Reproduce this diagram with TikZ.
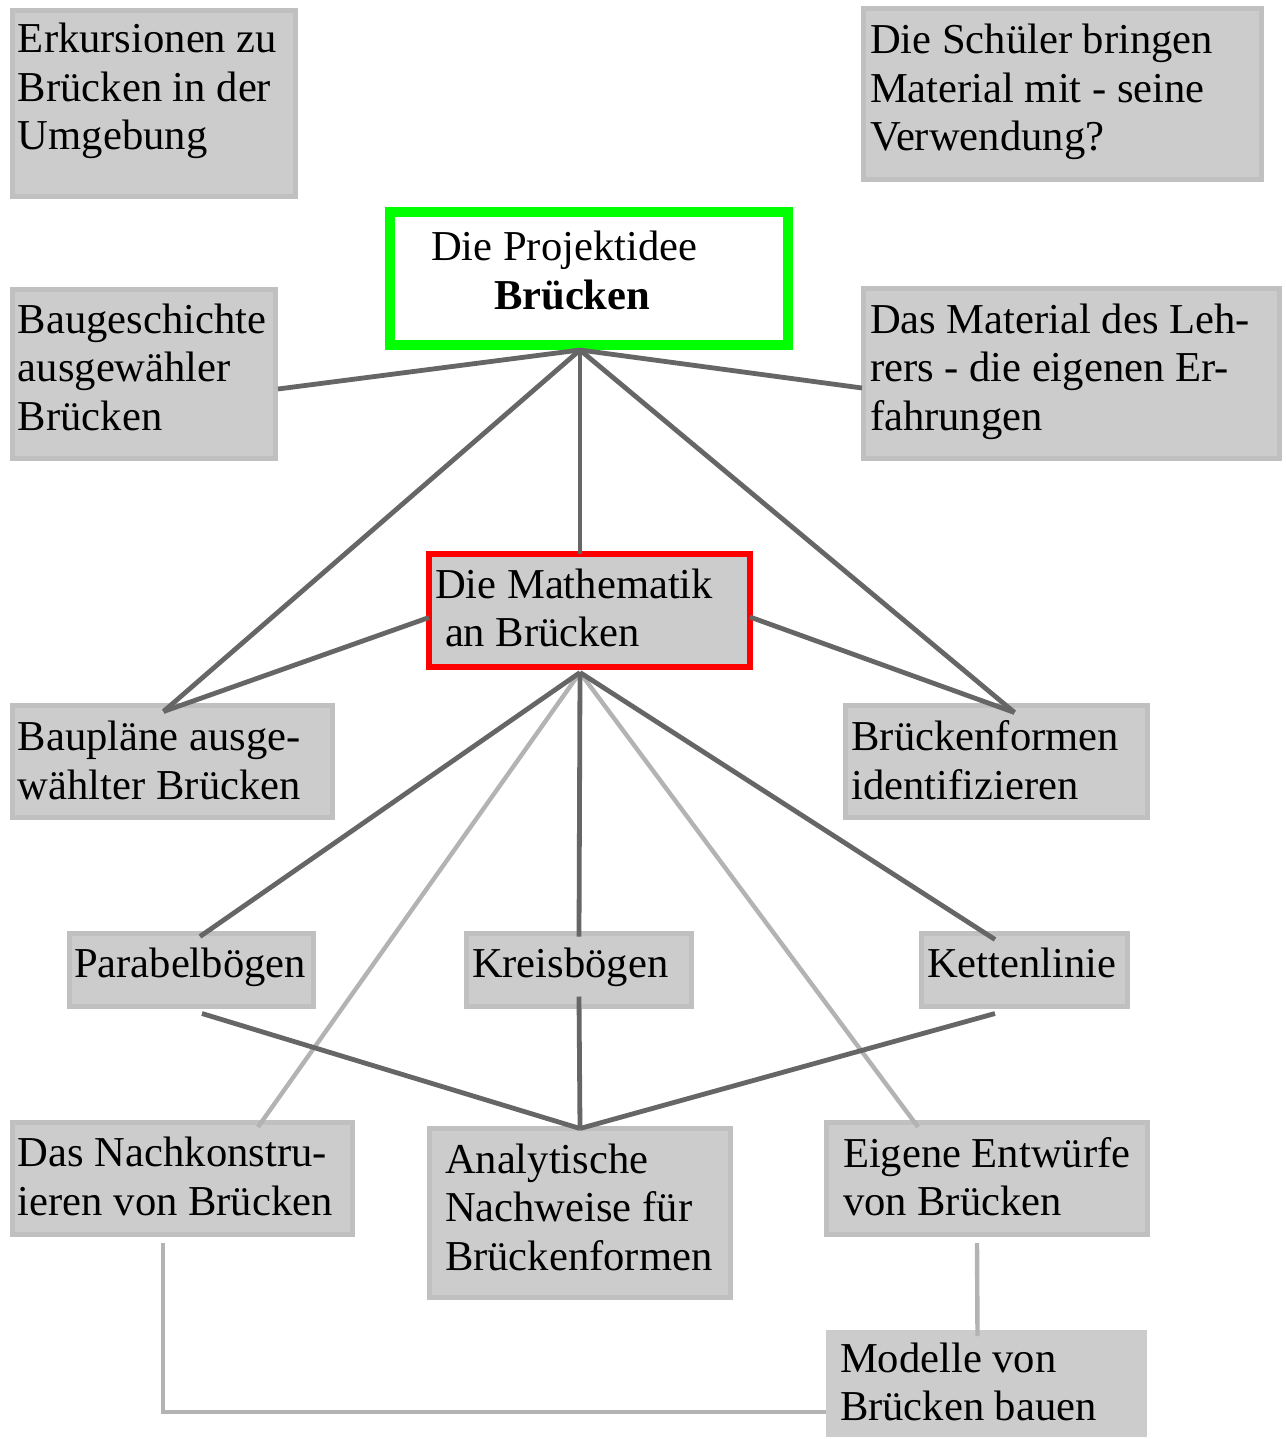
\documentclass[tikz,border=0pt]{standalone}
\usepackage{fontspec}
\setmainfont{Liberation Serif}
\usepackage{xcolor}
\usepackage{tikz}
\usetikzlibrary{positioning, arrows.meta}

\definecolor{boxgrau}{HTML}{CCCCCC}
\definecolor{randgrau}{HTML}{C0C0C0}
\definecolor{liniedunkel}{HTML}{666666}
\definecolor{liniehell}{HTML}{B3B3B3}
\definecolor{ideegruen}{HTML}{00FF00}
\definecolor{matherot}{HTML}{FF0000}
\hyphenpenalty=10000

\begin{document}
\begin{tikzpicture}[
    x=0.5pt, y=-0.5pt, % 1 Einheit = 1 Pixel des Vorbilds
    font=\fontsize{21.3}{24.25}\selectfont,
    thema/.style={rectangle, draw=randgrau, fill=boxgrau, line width=2.5pt, anchor=north west, align=flush left, inner ysep=0pt, outer sep=0pt},
    link/.style={draw=liniedunkel, line width=2.4pt},
    linkhell/.style={draw=liniehell, line width=2.2pt}
]
\path[fill=white, use as bounding box] (0,0) rectangle (1285,1439);

% Themen
\node[thema, inner xsep=2.75pt, text width=136pt, text height=21.25pt, text depth=71.75pt] (exkursion) at (12.5,10.5) {
    Erkursionen zu\\
    Brücken in der\\
    Umgebung
};

\node[thema, inner xsep=3.25pt, text width=192.5pt, text height=22.75pt, text depth=62.75pt] (schueler) at (863.5,8.5) {
    Die Schüler bringen\\
    Material mit - seine\\
    Verwendung?
};

\node[thema, draw=ideegruen, fill=white, line width=5pt, inner xsep=20.5pt, text width=158pt, text height=24.5pt, text depth=42pt] (idee) at (390,212) {
    Die Projektidee\\
    \hspace*{31.5pt}\textbf{Brücken}
};

\node[thema, inner xsep=2.75pt, text width=126pt, text height=21.75pt, text depth=62.75pt] (geschichte) at (12.5,289.5) {
    Baugeschichte\\
    ausgewähler\\
    Brücken
};

\node[thema, inner xsep=3.25pt, text width=201.5pt, text height=22.25pt, text depth=62.75pt] (lehrer) at (863.5,288.5) {
    Das Material des Leh-\\
    rers - die eigenen Er-\\
    fahrungen
};

\node[thema, draw=matherot, line width=3pt, inner xsep=3pt, text width=154.5pt, text height=22pt, text depth=34.5pt] (mathematik) at (429,554) {
    Die Mathematik\\
    \hspace*{5pt}an Brücken
};

\node[thema, inner xsep=2.75pt, text width=154.5pt, text height=22.5pt, text depth=33.5pt] (plaene) at (12.5,705.5) {
    Baupläne ausge-\\
    wählter Brücken
};

\node[thema, inner xsep=3pt, text width=145pt, text height=22.5pt, text depth=33.5pt] (formen) at (845.5,705.5) {
    Brückenformen\\
    identifizieren
};

\node[thema, inner xsep=2.25pt, text width=117.5pt, text height=22pt, text depth=14.5pt] (parabel) at (69.5,933.5) {Parabelbögen};
\node[thema, inner xsep=2.75pt, text width=107pt, text height=22pt, text depth=14.5pt] (kreis) at (466.5,933.5) {Kreisbögen};
\node[thema, inner xsep=2.75pt, text width=97.5pt, text height=22pt, text depth=14.5pt] (kette) at (921.5,933.5) {Kettenlinie};

\node[thema, inner xsep=2.75pt, text width=164.5pt, text height=22pt, text depth=34pt] (nachbau) at (12.5,1122.5) {
    Das Nachkonstru-\\
    ieren von Brücken
};

\node[thema, inner xsep=7.75pt, text width=135pt, text height=22.25pt, text depth=62.25pt] (analytik) at (429.5,1128.5) {
    Analytische\\
    Nachweise für\\
    Brückenformen
};

\node[thema, inner xsep=8.25pt, text width=144pt, text height=22.25pt, text depth=33.75pt] (entwurf) at (826.5,1122.5) {
    Eigene~Entwürfe\\
    von Brücken
};

\node[thema, draw=none, inner xsep=7pt, text width=146.5pt, text height=21pt, text depth=32.5pt] (modelle) at (826,1330) {
    Modelle von\\
    Brücken bauen
};

% Knotenpunkte der Linien
\coordinate (ideefuss) at ([shift={(-4.5pt,-2.5pt)}]idee.south);
\coordinate (mathefuss) at ([shift={(-4.75pt,-2.75pt)}]mathematik.south);

% helle Verbindungen
\draw[linkhell] (mathefuss) -- ([shift={(37.75pt,-2.25pt)}]nachbau.north);
\draw[linkhell] (mathefuss) -- ([shift={(-34.5pt,-2.25pt)}]entwurf.north);
\draw[linkhell] ([shift={(-9.75pt,-4.25pt)}]nachbau.south) |- ([yshift=-14.25pt]modelle.west);
\draw[linkhell] ([shift={(-5pt,-4.25pt)}]entwurf.south) -- ([shift={(-4.5pt,-3pt)}]modelle.north);

% dunkle Verbindungen
\draw[link] (ideefuss) -- ([shift={(1.25pt,-7.5pt)}]geschichte.east);
\draw[link] (ideefuss) -- ([shift={(-0.75pt,-7.25pt)}]lehrer.west);
\draw[link] (ideefuss) -- ([shift={(-4.5pt,-3pt)}]plaene.north);
\draw[link] (ideefuss) -- ([xshift=-4.75pt]mathematik.north);
\draw[link] (ideefuss) -- ([shift={(9pt,-3.5pt)}]formen.north);
\draw[link] ([yshift=-3.5pt]mathematik.west) -- ([shift={(-4.5pt,-3pt)}]plaene.north);
\draw[link] ([yshift=-3.25pt]mathematik.east) -- ([shift={(9pt,-3.5pt)}]formen.north);
\draw[link] (mathefuss) -- ([shift={(4.25pt,-1.5pt)}]parabel.north);
\draw[link] (mathefuss) -- ([yshift=-1.5pt]kreis.north);
\draw[link] (mathefuss) -- ([shift={(-14.75pt,-3pt)}]kette.north);
\draw[link] ([shift={(5.25pt,-3.5pt)}]parabel.south) -- (analytik.north);
\draw[link] ([yshift=5pt]kreis.south) -- (analytik.north);
\draw[link] ([shift={(-14.75pt,-3.5pt)}]kette.south) -- (analytik.north);

\end{tikzpicture}
\end{document}
